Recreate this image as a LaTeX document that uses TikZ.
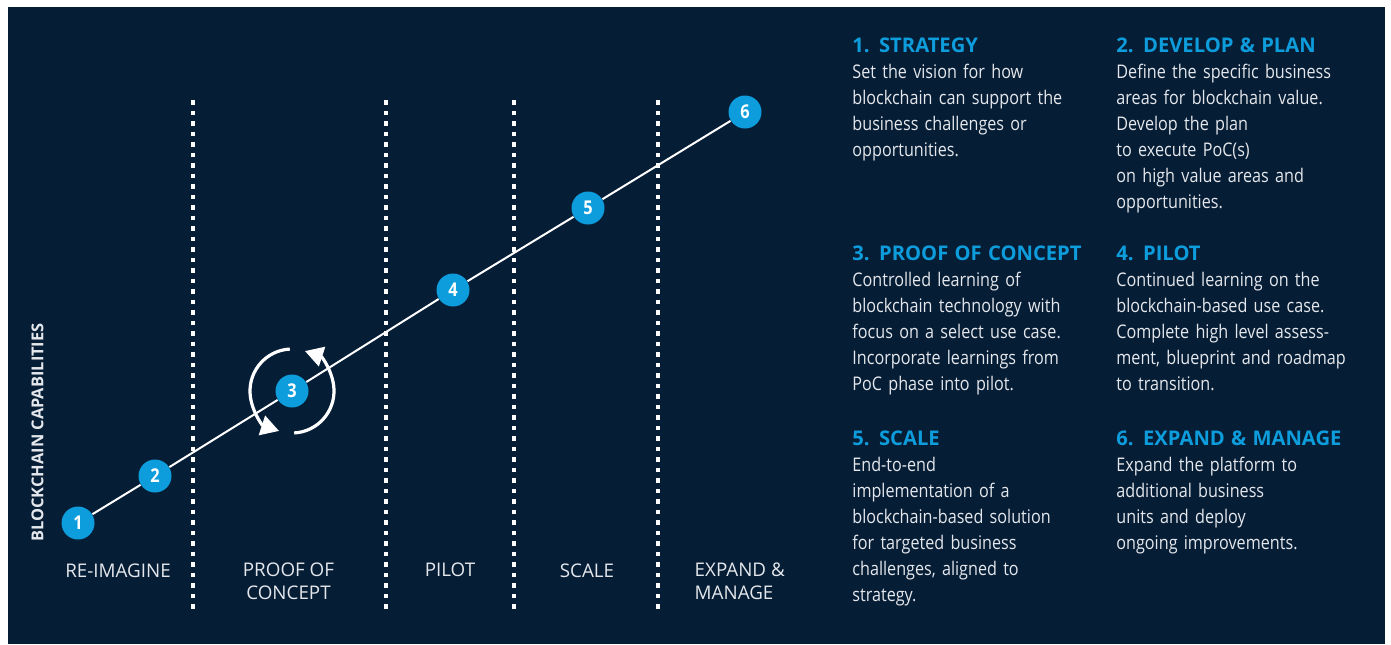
\documentclass[tikz,border=0pt]{standalone}
\usepackage{fontspec}
\setmainfont{Open Sans}
\newfontfamily\narrowfont{Open Sans}[FakeStretch=0.86]
\usetikzlibrary{arrows.meta}
\definecolor{navy}{HTML}{061D36}
\definecolor{cblue}{HTML}{0E9DDC}
\definecolor{ltext}{HTML}{E4E7EB}
\newcommand\stephead[1]{{\color{cblue}\rmfamily\bfseries\fontsize{10.1}{13}\selectfont #1}}
\begin{document}
\begin{tikzpicture}[x=0.5pt,y=-0.5pt,
    stepdot/.style={circle,fill=cblue,minimum size=16.5pt,inner sep=0pt,text=white,
        font=\narrowfont\bfseries\fontsize{9.5}{10}\selectfont},
    dotline/.style={white,line width=2.3pt,dash pattern=on 2.3pt off 2.95pt},
    phase/.style={text=ltext,font=\rmfamily\fontsize{9.4}{11.5}\selectfont,inner sep=0pt},
    info/.style={text=ltext,font=\narrowfont\fontsize{9.4}{13}\selectfont,align=left,
        text width=135pt,anchor=base west,inner sep=0pt},
    rotarrow/.style={white,line width=1.6pt,-{Triangle[length=9pt,width=10pt]}}]

    \fill[white] (0,0) rectangle (1391,644);
    \fill[navy] (8,7) rectangle (1385,644);

    % phase separators
    \coordinate (s1t) at (193,100); \coordinate (s1b) at (193,610);
    \coordinate (s2t) at (386,100); \coordinate (s2b) at (386,610);
    \coordinate (s3t) at (514,100); \coordinate (s3b) at (514,610);
    \coordinate (s4t) at (658,100); \coordinate (s4b) at (658,610);
    \foreach \i in {1,...,4}
        \draw[dotline] (s\i t) -- (s\i b);

    \node[stepdot] (c1) at (78,523) {1};
    \node[stepdot] (c2) at (155,476) {2};
    \node[stepdot] (c3) at (292,391) {3};
    \node[stepdot] (c4) at (453,290) {4};
    \node[stepdot] (c5) at (588,208) {5};
    \node[stepdot] (c6) at (745,112) {6};
    \foreach \a/\b in {1/2,2/3,3/4,4/5,5/6}
        \draw[white,line width=1pt] (c\a) -- (c\b);

    \draw[rotarrow] ([shift={(-93:42)}]c3.center) arc[start angle=-93,end angle=-252,radius=42];
    \draw[rotarrow] ([shift={(-273:42)}]c3.center) arc[start angle=-273,end angle=-432,radius=42];

    \node[rotate=90,anchor=base,text=ltext,font=\rmfamily\bfseries\fontsize{8.2}{9}\selectfont]
        (axis) at (43.3,432.5) {BLOCKCHAIN CAPABILITIES};

    % two-line labels sit on their last line
    \node[phase,anchor=base] (reimagine) at (118,577) {RE-IMAGINE};
    \node[phase,anchor=base,align=center] (poc) at (288.5,599.3) {PROOF OF\\CONCEPT};
    \node[phase,anchor=base] (pilot) at (450,576) {PILOT};
    \node[phase,anchor=base] (scale) at (587,577) {SCALE};
    \node[phase,anchor=base west,align=left] (expand) at (694.3,599.3) {EXPAND \&\\MANAGE};

    \node[info] (strategy) at (852,52.7) {\stephead{1. STRATEGY}\\Set the vision for how\\blockchain can support the\\business challenges or\\opportunities.};
    \node[info] (develop) at (1116,52.7) {\stephead{2. DEVELOP \& PLAN}\\Define the specific business\\areas for blockchain value.\\Develop the plan\\to execute PoC(s)\\on high value areas and\\opportunities.};
    \node[info] (proof) at (852,260) {\stephead{3. PROOF OF CONCEPT}\\Controlled learning of\\blockchain technology with\\focus on a select use case.\\Incorporate learnings from\\PoC phase into pilot.};
    \node[info] (pilotinfo) at (1116,260) {\stephead{4. PILOT}\\Continued learning on the\\blockchain-based use case.\\Complete high level assess-\\ment, blueprint and roadmap\\to transition.};
    \node[info] (scaleinfo) at (852,445) {\stephead{5. SCALE}\\End-to-end\\implementation of a\\blockchain-based solution\\for targeted business\\challenges, aligned to\\strategy.};
    \node[info] (manage) at (1116,445) {\stephead{6. EXPAND \& MANAGE}\\Expand the platform to\\additional business\\units and deploy\\ongoing improvements.};
\end{tikzpicture}
\end{document}
